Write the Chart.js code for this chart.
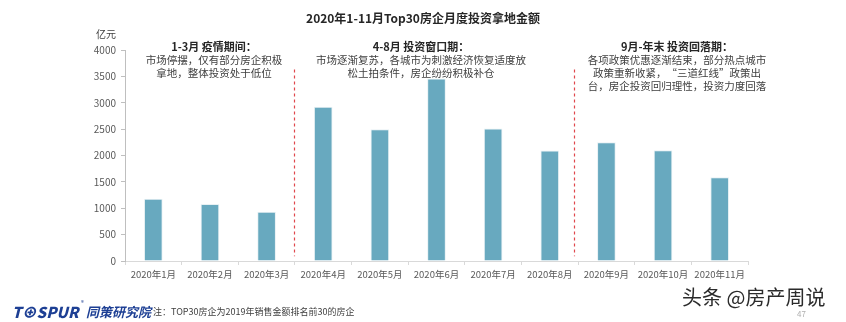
<!DOCTYPE html>
<html>
<head>
<meta charset="utf-8">
<script src="https://cdn.jsdelivr.net/npm/chart.js@4/dist/chart.umd.min.js"></script>
<style>
  html, body { margin: 0; padding: 0; background: #fff; }
  #wrap { position: relative; width: 846px; height: 322px; }
</style>
</head>
<body>
<div id="wrap"><canvas id="myChart" width="846" height="322"></canvas></div>
<script>
// data
const months = ["2020年1月", "2020年2月", "2020年3月", "2020年4月", "2020年5月", "2020年6月",
  "2020年7月", "2020年8月", "2020年9月", "2020年10月", "2020年11月"];
const amounts = [1182, 1081, 935, 2922, 2499, 3459, 2510, 2093, 2252, 2100, 1588];
const yTicks = [0, 500, 1000, 1500, 2000, 2500, 3000, 3500, 4000];

// period notes above the bars
const periodHeads = ["1-3月 疫情期间：", "4-8月 投资窗口期：", "9月-年末 投资回落期："];
const periodLines = [
  ["市场停摆，仅有部分房企积极", "拿地，整体投资处于低位"],
  ["市场逐渐复苏，各城市为刺激经济恢复适度放", "松土拍条件，房企纷纷积极补仓"],
  ["各项政策优惠逐渐结束，部分热点城市", "政策重新收紧，“三道红线”政策出", "台，房企投资回归理性，投资力度回落"]
];
const dividers = [2.48, 7.42]; // category positions of the red dashed lines

const FONT = "'Noto Sans CJK SC', 'Noto Sans', sans-serif";
var ctx = document.querySelector("#myChart").getContext("2d");

const decor = {
  id: "decor",
  afterDatasetsDraw(chart) {
    const c = chart.ctx;
    const x = chart.scales.x, y = chart.scales.y;
    c.save();

    // red dashed dividers
    c.strokeStyle = "#e0474c";
    c.lineWidth = 1.2;
    c.setLineDash([3, 3]);
    dividers.forEach(function (d) {
      const px = Math.round(x.getPixelForValue(d)) + 0.5;
      c.beginPath();
      c.moveTo(px, y.getPixelForValue(3630));
      c.lineTo(px, y.getPixelForValue(90));
      c.stroke();
    });
    c.setLineDash([]);

    // title
    c.textAlign = "center";
    c.textBaseline = "middle";
    c.fillStyle = "#262626";
    c.font = "bold 12px " + FONT;
    c.fillText("2020年1-11月Top30房企月度投资拿地金额", 423, 18);

    // unit
    c.font = "10px " + FONT;
    c.fillStyle = "#404040";
    c.fillText("亿元", 106, 34);

    // period notes
    const centers = [214, 421, 677];
    for (let i = 0; i < 3; i++) {
      c.fillStyle = "#262626";
      c.font = "bold 11px " + FONT;
      c.fillText(periodHeads[i], centers[i], 47);
      c.font = "10.5px " + FONT;
      c.fillStyle = "#404040";
      periodLines[i].forEach(function (t, j) {
        c.fillText(t, centers[i], 60 + j * 13);
      });
    }

    // footer logo and note
    c.textAlign = "left";
    c.fillStyle = "#1d3f94";
    c.font = "italic 900 15px " + FONT;
    c.fillText("T⊕SPUR", 12, 312);
    c.font = "6px " + FONT;
    c.fillText("®", 81, 303);
    c.font = "italic bold 13px " + FONT;
    c.fillText("同策研究院", 86, 312);
    c.fillStyle = "#404040";
    c.font = "9px " + FONT;
    c.fillText("注：TOP30房企为2019年销售金额排名前30的房企", 153, 312);

    // watermark
    c.font = "20px " + FONT;
    c.lineWidth = 3;
    c.strokeStyle = "rgba(255,255,255,0.9)";
    c.strokeText("头条 @房产周说", 682, 297);
    c.fillStyle = "#2b2b2b";
    c.fillText("头条 @房产周说", 682, 297);
    c.font = "8px " + FONT;
    c.fillStyle = "#b0b0b0";
    c.fillText("47", 797, 314);

    c.restore();
  }
};

var myChart = new Chart(ctx, {
  type: "bar",
  data: {
    labels: months,
    datasets: [
      {
        data: amounts,
        backgroundColor: "#68a9bf",
        borderColor: "#e8f1f4",
        borderWidth: 1,
        barPercentage: 0.33,
        categoryPercentage: 1,
      },
    ],
  },
  options: {
    responsive: false,
    animation: false,
    layout: { padding: { left: 0, right: 98, top: 50, bottom: 0 } },
    plugins: {
      legend: { display: false },
      tooltip: { enabled: false },
    },
    scales: {
      x: {
        grid: {
          display: true,
          drawOnChartArea: false,
          offset: true,
          color: "#d9d9d9",
          tickLength: 4,
        },
        border: { color: "#d9d9d9" },
        ticks: {
          color: "#595959",
          font: { family: FONT, size: 9.5 },
          maxRotation: 0,
          autoSkip: false,
          padding: 4,
        },
        afterFit(scale) { scale.height = 61; },
      },
      y: {
        min: 0,
        max: 4000,
        afterBuildTicks(scale) { scale.ticks = yTicks.map(function (v) { return { value: v }; }); },
        grid: {
          drawOnChartArea: false,
          color: "#bfbfbf",
          tickLength: 4,
        },
        border: { color: "#bfbfbf" },
        ticks: {
          color: "#595959",
          font: { family: FONT, size: 10 },
          padding: 5,
          callback: function (v) { return String(v); },
        },
        afterFit(scale) { scale.width = 125; },
      },
    },
  },
  plugins: [decor],
});
</script>
</body>
</html>
